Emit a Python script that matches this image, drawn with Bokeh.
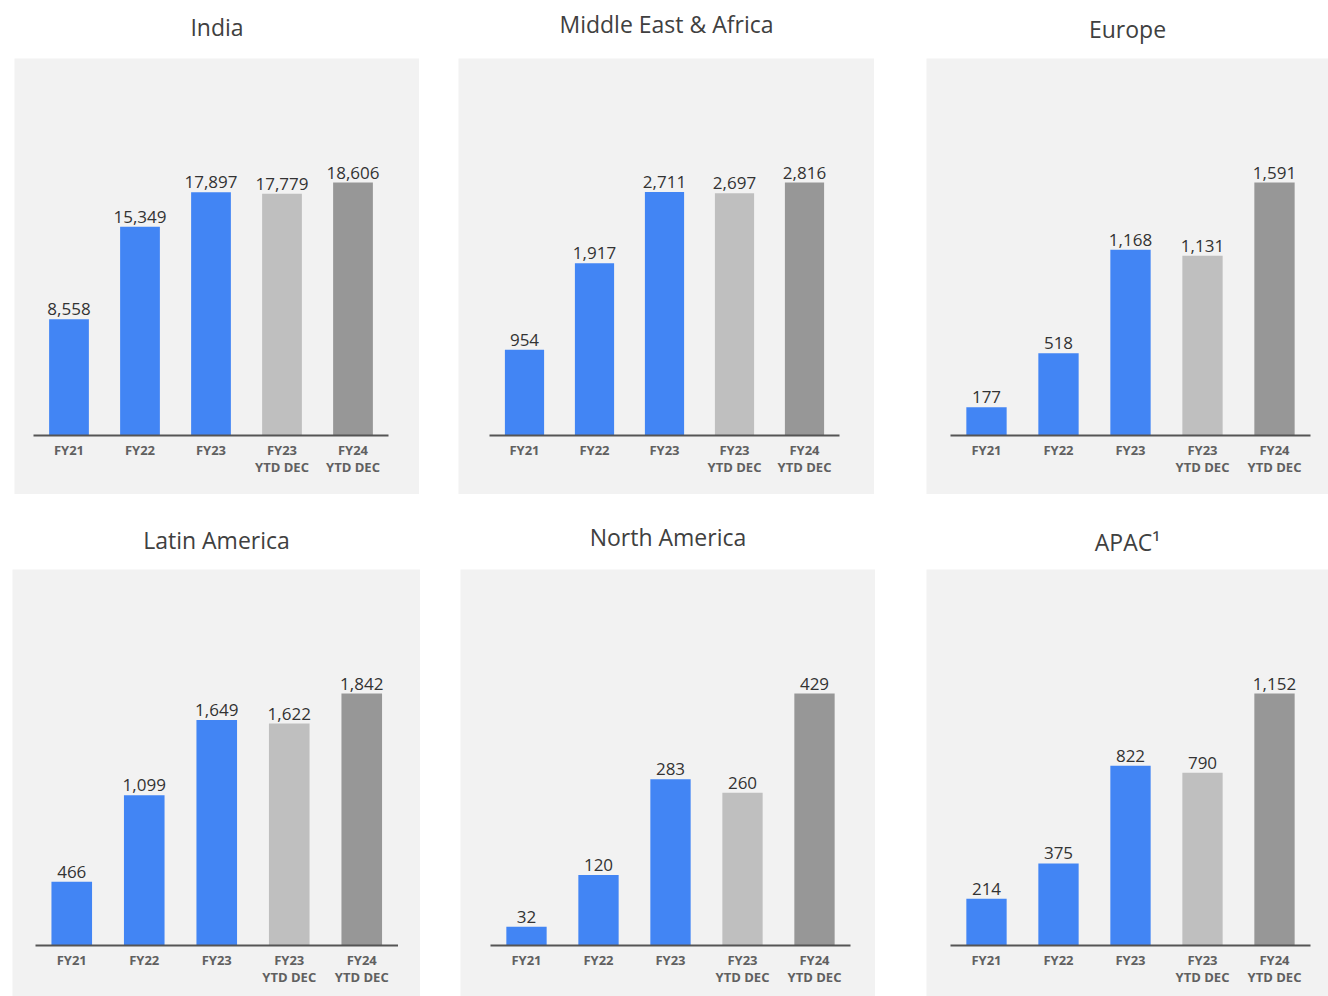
from bokeh.plotting import figure
from bokeh.layouts import column, row, Spacer
from bokeh.models import ColumnDataSource
from bokeh.embed import file_html
from bokeh.resources import INLINE
from bokeh.core.properties import value

# ---------------- data ----------------
categories_line1 = ["FY21", "FY22", "FY23", "FY23", "FY24"]
categories_line2 = ["", "", "", "YTD DEC", "YTD DEC"]
bar_colors = ["#4285F4", "#4285F4", "#4285F4", "#BFBFBF", "#979797"]

regions = ["India", "Middle East & Africa", "Europe",
           "Latin America", "North America", "APAC¹"]

india = [8558, 15349, 17897, 17779, 18606]
middle_east_africa = [954, 1917, 2711, 2697, 2816]
europe = [177, 518, 1168, 1131, 1591]
latin_america = [466, 1099, 1649, 1622, 1842]
north_america = [32, 120, 283, 260, 429]
apac = [214, 375, 822, 790, 1152]

series = [india, middle_east_africa, europe, latin_america, north_america, apac]

# ---------------- layout (pixels) ----------------
# width, height, border_top, title_pad_bottom, left_pad, spacing, bar_px, below_px
panel_layout = [
    (405, 494, 58, 16, 19, 71, 253, 59),
    (416, 494, 58, 19, 31, 70, 253, 59),
    (402, 494, 58, 14, 24, 72, 253, 59),
    (408, 502, 75, 14, 23, 72.5, 252, 51),
    (415, 502, 75, 17, 30, 72, 252, 51),
    (402, 502, 75, 12, 24, 72, 252, 51),
]
gaps_row1 = [14, 39, 52]
gaps_row2 = [12, 40, 51]

FONT = value("Open Sans")


def make_panel(name, vals, lay):
    w, h, bt, pad, lpad, sp, bar_px, below = lay
    n = len(vals)
    xs = -0.5 - lpad / sp
    xe = xs + w / sp
    vmax = max(vals)
    k = bar_px / vmax
    frame_h = h - bt
    ys = -below / k
    ye = ys + frame_h / k

    src = ColumnDataSource(dict(
        x=list(range(n)),
        v=vals,
        zero=[0] * n,
        color=bar_colors,
        label=[f"{v:,}" for v in vals],
        cat1=categories_line1,
        cat2=categories_line2,
    ))

    p = figure(width=w, height=h, x_range=(xs, xe), y_range=(ys, ye),
               output_backend="svg", toolbar_location=None,
               x_axis_location=None, y_axis_location=None,
               min_border_top=bt, min_border_left=0, min_border_right=0,
               min_border_bottom=0, background_fill_color="#f2f2f2",
               border_fill_color="white", outline_line_color=None,
               title=name)
    p.grid.visible = False
    p.title.align = "center"
    p.title.text_font = "Open Sans"
    p.title.text_font_size = "23px"
    p.title.text_font_style = "normal"
    p.title.text_color = "#404040"
    p.title.standoff = 0
    p.title.padding = dict(left=0, right=0, top=0, bottom=pad)

    p.vbar(x="x", top="v", bottom=0, width=0.56, color="color",
           line_color=None, source=src)
    p.segment(x0=-0.5, y0=0, x1=n - 0.5, y1=0, line_color="#555555",
              line_width=2)
    p.text(x="x", y="v", text="label", source=src, text_align="center",
           text_baseline="bottom", y_offset=-4, text_font=FONT,
           text_font_size="17px", text_color="#333333")
    p.text(x="x", y="zero", text="cat1", source=src, text_align="center",
           text_baseline="top", y_offset=5, text_font=FONT,
           text_font_size="13px", text_font_style="bold",
           text_color="#606060")
    p.text(x="x", y="zero", text="cat2", source=src, text_align="center",
           text_baseline="top", y_offset=22, text_font=FONT,
           text_font_size="13px", text_font_style="bold",
           text_color="#606060")
    return p


figs = [make_panel(r, s, l) for r, s, l in zip(regions, series, panel_layout)]

row1 = row(Spacer(width=gaps_row1[0]), figs[0], Spacer(width=gaps_row1[1]),
           figs[1], Spacer(width=gaps_row1[2]), figs[2])
row2 = row(Spacer(width=gaps_row2[0]), figs[3], Spacer(width=gaps_row2[1]),
           figs[4], Spacer(width=gaps_row2[2]), figs[5])
layout = column(row1, row2)

open("out.html", "w").write(file_html(layout, INLINE))
